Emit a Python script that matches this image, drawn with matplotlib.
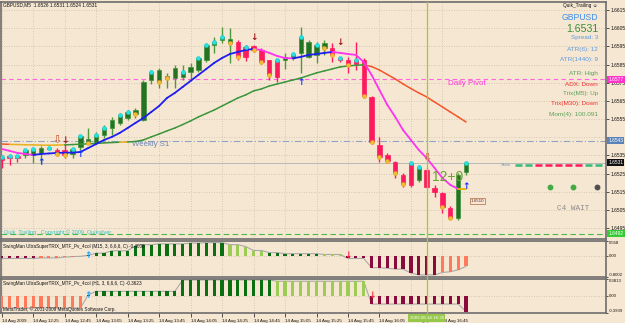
import matplotlib
matplotlib.use('Agg')
import matplotlib.pyplot as plt
import matplotlib.transforms as mtransforms
from matplotlib.collections import LineCollection
from matplotlib.lines import Line2D
import numpy as np

plt.rcParams['font.family'] = ['Liberation Sans', 'DejaVu Sans']

# ---------------- data ----------------
symbol_title = 'GBPUSD,M5  1.6526 1.6531 1.6524 1.6531'
opens = [1.65342,1.65347,1.65347,1.65353,1.65353,1.65364,1.65386,1.65380,1.65380,1.65358,
         1.65397,1.65419,1.65419,1.65463,1.65501,1.65529,1.65556,1.65578,1.65545,1.65765,
         1.65754,1.65776,1.65776,1.65782,1.65809,1.65820,1.65875,1.65958,1.65985,1.65969,
         1.65974,1.65947,1.65952,1.65930,1.65875,1.65875,1.65875,1.65886,1.65914,1.65892,
         1.65903,1.65941,1.65941,1.65886,1.65875,1.65875,1.65875,1.65672,1.65408,1.65353,
         1.65314,1.65243,1.65309,1.65215,1.65270,1.65171,1.65144,1.65061,1.65006,1.65260]
highs = [1.65353,1.65353,1.65353,1.65386,1.65391,1.65402,1.65397,1.65391,1.65419,1.65391,
         1.65463,1.65501,1.65479,1.65518,1.65562,1.65584,1.65600,1.65611,1.65765,1.65820,
         1.65831,1.65804,1.65848,1.65848,1.65859,1.65892,1.65963,1.66002,1.66057,1.66051,
         1.65985,1.65958,1.65958,1.65941,1.65875,1.65881,1.65914,1.65914,1.66057,1.65985,
         1.65974,1.65985,1.65969,1.65892,1.65892,1.65974,1.65886,1.65677,1.65452,1.65364,
         1.65320,1.65254,1.65314,1.65298,1.65281,1.65188,1.65149,1.65072,1.65254,1.65310]
lows = [1.65281,1.65298,1.65314,1.65336,1.65309,1.65309,1.65380,1.65347,1.65336,1.65336,
        1.65380,1.65413,1.65413,1.65446,1.65463,1.65518,1.65545,1.65556,1.65540,1.65743,
        1.65721,1.65721,1.65721,1.65765,1.65765,1.65809,1.65864,1.65914,1.65969,1.65859,
        1.65875,1.65870,1.65919,1.65853,1.65765,1.65754,1.65826,1.65875,1.65804,1.65886,
        1.65859,1.65903,1.65864,1.65864,1.65804,1.65820,1.65666,1.65413,1.65314,1.65309,
        1.65226,1.65177,1.65177,1.65204,1.65171,1.65122,1.65034,1.65000,1.64995,1.65240]
closes = [1.65325,1.65336,1.65336,1.65380,1.65386,1.65391,1.65391,1.65358,1.65353,1.65386,
          1.65457,1.65441,1.65463,1.65501,1.65545,1.65573,1.65589,1.65600,1.65754,1.65809,
          1.65820,1.65787,1.65831,1.65809,1.65837,1.65886,1.65958,1.65974,1.66002,1.65991,
          1.65892,1.65892,1.65930,1.65864,1.65793,1.65782,1.65892,1.65908,1.66002,1.65974,
          1.65958,1.65969,1.65903,1.65875,1.65848,1.65853,1.65677,1.65424,1.65342,1.65320,
          1.65254,1.65193,1.65188,1.65287,1.65177,1.65149,1.65066,1.65006,1.65243,1.65310]
fast_ma = [1.65386,1.65375,1.65364,1.65358,1.65353,1.65358,1.65361,1.65364,1.65365,1.65366,
           1.65369,1.65391,1.65413,1.65435,1.65452,1.65474,1.65501,1.65529,1.65556,1.65589,
           1.65622,1.65666,1.65694,1.65727,1.65760,1.65793,1.65826,1.65859,1.65886,1.65908,
           1.65919,1.65930,1.65936,1.65930,1.65914,1.65897,1.65886,1.65884,1.65892,1.65903,
           1.65908,1.65914,1.65919,1.65914,1.65908,1.65903,1.65864,1.65793,1.65710,1.65628,
           1.65562,1.65490,1.65435,1.65380,1.65336,1.65281,1.65226,1.65188,1.65166,1.65166]
slow_ma = [1.65413,1.65411,1.65410,1.65409,1.65408,1.65407,1.65406,1.65407,1.65408,1.65410,
           1.65412,1.65414,1.65416,1.65419,1.65421,1.65423,1.65424,1.65427,1.65435,1.65452,
           1.65468,1.65485,1.65501,1.65520,1.65540,1.65562,1.65581,1.65600,1.65622,1.65644,
           1.65666,1.65683,1.65705,1.65716,1.65732,1.65743,1.65754,1.65765,1.65776,1.65790,
           1.65804,1.65815,1.65826,1.65837,1.65842,1.65846,1.65848,1.65839,1.65820,1.65795,
           1.65771,1.65743,1.65718,1.65694,1.65672,1.65644,1.65617,1.65589,1.65562,1.65534]
cyan_dot_bars = [0,1,2,3,4,6,9,10,12,13,15,16,19,23,25,26,27,28,31,35,37,38,40,43,45,52,53,59]
yellow_dot_bars = [7,8,11,17,20,21,29,30,32,33,34,41,42,44,46,47,48,49,50,51,56,57]
up_arrow_bars = [5, 10, 38, 59]
up_arrow_prices = [1.65309, 1.65353, 1.65749, 1.65177]
down_arrow_bars = [8, 32, 43]
down_arrow_prices = [1.65430, 1.65996, 1.65969]
hollow_arrow_bars = [7, 54]
hollow_arrow_prices = [1.65435, 1.65336]

trix_m15 = [-0.10,-0.10,-0.10,-0.10,-0.10,-0.08,-0.08,-0.08,-0.05,-0.03,
            -0.02,0.02,0.10,0.10,0.19,0.19,0.19,0.38,0.42,0.42,
            0.45,0.45,0.45,0.45,0.48,0.48,0.50,0.50,0.50,0.42,
            0.42,0.35,0.20,0.20,0.12,0.12,0.08,0.08,0.08,0.08,
            0.08,0.05,0.05,0.05,-0.10,-0.10,-0.10,-0.45,-0.45,-0.47,
            -0.50,-0.50,-0.65,-0.72,-0.72,-0.72,-0.63,-0.60,-0.53,-0.40]
trix_m15_state = 'RRRRRrrrrr' 'rGGGGGGGGG' 'GGGGGGGGGg' 'ggggGGGGGG' 'GgggRRRRRR' 'RRRRRRrrrr'
trix_h1 = [-0.28,-0.28,-0.28,-0.28,-0.28,-0.28,-0.28,-0.28,-0.28,-0.28,
           -0.28,0.02,0.10,0.10,0.10,0.10,0.10,0.10,0.10,0.10,
           0.10,0.10,0.10,0.36,0.36,0.36,0.36,0.36,0.36,0.36,
           0.36,0.36,0.36,0.36,0.36,0.33,0.33,0.33,0.33,0.33,
           0.33,0.33,0.33,0.33,0.33,0.33,0.33,-0.19,-0.19,-0.19,
           -0.19,-0.19,-0.19,-0.19,-0.19,-0.19,-0.19,-0.19,-0.19,-0.36]
trix_h1_state = 'rrrrrrrrrr' 'rGGGGGGGGG' 'GGGGGGGGGG' 'GGGGGggggg' 'gggggggRRR' 'RRRRRRRRRR'
m15_range = (-0.8002, 0.5586)
h1_range = (-0.3939, 0.3813)
m15_title = 'SwingMan UltraSuperTRIX_MTF_Pv_4col (M15, 3, 6,6,6, C) -0.4008'
h1_title = 'SwingMan UltraSuperTRIX_MTF_Pv_4col (H1, 3, 6,6,6, C) -0.3623'
m15_tick_labels = ['0.558', '0.00', '-0.8002']
h1_tick_labels = ['0.3813', '0.00', '-0.3939']
trix_cross_up_bar = 11
m15_cross_down_bar = 44
h1_cross_down_bar = 47

price_ticks = [1.6615, 1.6605, 1.6595, 1.6585, 1.6575, 1.6565, 1.6555, 1.6545,
               1.6535, 1.6525, 1.6515, 1.6505, 1.6495]
price_tick_labels = ['1.6615', '1.6605', '1.6595', '1.6585', '1.6575', '1.6565', '1.6555', '',
                     '1.6535', '1.6525', '1.6515', '1.6505', '1.6495']
price_range = (1.648905, 1.66194)
time_tick_bars = [0, 4, 8, 12, 16, 20, 24, 28, 32, 36, 40, 44, 48, 52, 56]
time_tick_labels = ['14 Aug 2009', '14 Aug 12:25', '14 Aug 12:45', '14 Aug 13:05',
                    '14 Aug 13:25', '14 Aug 13:45', '14 Aug 14:05', '14 Aug 14:25',
                    '14 Aug 14:45', '14 Aug 15:05', '14 Aug 15:25', '14 Aug 15:45',
                    '14 Aug 16:05', '14 Aug 16:25', '14 Aug 16:45']
cursor_bar = 54
cursor_label = '2009.08.14 16:35'
daily_pivot = 1.6577
weekly_s1 = 1.6543
bid_price = 1.6531
low_level = 1.6492
stop_level = 1.6510
stats_level = 1.6530
stats_states = ['G', 'G', 'R', 'R', 'R', 'R', 'R', 'G', 'G', 'G']
info_symbol = 'GBPUSD'
info_price = '1.6531'
info_lines = ['Spread: 3', 'ATR(6): 12', 'ATR(1440): 9', 'ATR: High', 'ADX: Down',
              'Trix(M5): Up', 'Trix(M30): Down', 'Mom(4): 100.091']
info_states = ['B', 'B', 'B', 'G', 'R', 'G', 'R', 'G']
counter_text = '12+0'
wait_text = 'C4 WAIT'

# ---------------- styling / layout ----------------
W, H = 625, 323
BG = '#f6e7d2'
GRID = '#c9bdab'
SPINE = '#6c6c6c'
BULL_BODY = '#237323'
BULL_WICK = '#4f9a3a'
BEAR = '#ff1a5e'
TXT = '#111111'

fig = plt.figure(figsize=(W / 100, H / 100), dpi=100, facecolor=BG)


def box(top, bottom, left=1, right=606):
    return [left / W, 1 - bottom / H, (right - left) / W, (bottom - top) / H]


ax = fig.add_axes(box(2, 239))
ax1 = fig.add_axes(box(241, 277), sharex=ax)
ax2 = fig.add_axes(box(279, 313), sharex=ax)

x_lo = (1 - 1.7) / 7.87
x_hi = (606 - 1.7) / 7.87
n = len(opens)
idx = np.arange(n)

for a in (ax, ax1, ax2):
    a.set_facecolor(BG)
    for s in a.spines.values():
        s.set_color(SPINE)
        s.set_linewidth(1.2)
    a.set_xlim(x_lo, x_hi)
    a.set_xticks(time_tick_bars)
    a.grid(True, color=GRID, linestyle=(0, (1, 2)), linewidth=0.6)
    a.set_axisbelow(True)
    a.yaxis.tick_right()
    a.tick_params(axis='y', which='both', length=2, width=0.5, pad=1.0,
                  labelsize=3.5, colors=TXT)

for a in (ax1, ax2):
    a.tick_params(axis='y', length=1.5, pad=0.6, labelsize=3.1)

for a in (ax, ax1):
    a.tick_params(axis='x', length=0, labelbottom=False)

ax2.set_xticklabels(time_tick_labels)
ax2.tick_params(axis='x', length=3, width=0.5, pad=1.2, labelsize=3.15,
                colors=TXT, direction='out')
for lbl in ax2.get_xticklabels():
    lbl.set_horizontalalignment('left')

# ---- main price panel ----
ax.set_ylim(*price_range)
ax.set_yticks(price_ticks)
ax.set_yticklabels(price_tick_labels)

o = np.array(opens); c = np.array(closes); h = np.array(highs); l = np.array(lows)
bull = c >= o
wick_cols = np.where(bull, BULL_WICK, BEAR)
ax.vlines(idx, l, h, colors=wick_cols, linewidth=1.0, zorder=3)
body_bottom = np.minimum(o, c)
body_h = np.maximum(np.abs(c - o), 0.00002)
ax.bar(idx, body_h, bottom=body_bottom, width=0.56,
       color=np.where(bull, BULL_BODY, BEAR), edgecolor=np.where(bull, '#3f8f3f', BEAR),
       linewidth=0.5, zorder=4)


def slope_line(values, up, down, flat, tol, lw):
    v = np.array(values)
    pts = np.column_stack([idx, v])
    segs = np.stack([pts[:-1], pts[1:]], axis=1)
    d = np.diff(v)
    cols = [up if dd > tol else (down if dd < -tol else flat) for dd in d]
    ax.add_collection(LineCollection(segs, colors=cols, linewidths=lw, zorder=5,
                                     capstyle='round'))


slope_line(slow_ma, '#3a963a', '#f2552a', '#e8b020', 0.000019, 1.1)
slope_line(fast_ma, '#1e1ef0', '#ff33ee', '#f0b000', 0.000005, 1.3)

ax.plot(cyan_dot_bars, [max(o[i], c[i]) for i in cyan_dot_bars], 'o', ms=3.0,
        color='#22e2e2', mec='#22c8c8', mew=0.3, zorder=6)
ax.plot(yellow_dot_bars, [min(o[i], c[i]) for i in yellow_dot_bars], 'o', ms=3.0,
        color='#f2bb33', mec='#e0a020', mew=0.3, zorder=6)

for b, p in zip(up_arrow_bars, up_arrow_prices):
    ax.text(b, p, '\u2191', color='#1232ff', fontsize=6.5, fontweight='bold',
            ha='center', va='center', family='DejaVu Sans', zorder=7)
for b, p in zip(down_arrow_bars, down_arrow_prices):
    ax.text(b, p, '\u2193', color='#a01818', fontsize=6.5, fontweight='bold',
            ha='center', va='center', family='DejaVu Sans', zorder=7)
for b, p in zip(hollow_arrow_bars, hollow_arrow_prices):
    ax.text(b, p, '\u21e9', color='#c8502a', fontsize=8, ha='center', va='center',
            family='DejaVu Sans', zorder=7)

ax.axhline(daily_pivot, color='#ff66dd', lw=0.8, ls=(0, (4, 3)), zorder=2)
ax.axhline(weekly_s1, color='#8fa4c4', lw=0.8, ls=(0, (6, 2, 1, 2)), zorder=2)
ax.axhline(bid_price, color='#b8b8b8', lw=0.7, zorder=2)
ax.axhline(low_level, color='#44bb44', lw=0.8, ls=(0, (5, 3)), zorder=2)
ax.text(56.7, daily_pivot - 0.00025, 'Daily Pivot', color='#ff33dd', fontsize=5.8,
        va='center', ha='left')
ax.text(16.6, weekly_s1 - 0.00018, 'Weekly S1', color='#6f86b4', fontsize=5.6,
        va='center', ha='left')

for k, st in enumerate(stats_states):
    x0 = 65.2 + k * 1.28
    ax.hlines(stats_level, x0, x0 + 0.9, colors='#33bb77' if st == 'G' else '#ff1a5e',
              linewidth=1.8, zorder=5)
ax.text(63.4, stats_level, 'Stats', color='#7090c8', fontsize=3.2, va='center', ha='left')
for xb, colr in zip([69.7, 72.6, 75.6], ['#44aa44', '#44aa44', '#505050']):
    ax.plot(xb, 1.65177, 'o', ms=3.2, color=colr, zorder=6)

ax.text(54.7, 1.65232, counter_text, color='#6ea03a', fontsize=10, va='center',
        ha='left', zorder=8)
ax.text(59.6, stop_level, f'{stop_level:.4f}', color='#603020', fontsize=3.2, va='center',
        ha='left', bbox=dict(boxstyle='square,pad=0.25', fc='#f8e6d6', ec='#b06a40', lw=0.5))

trans = mtransforms.blended_transform_factory(ax.transAxes, ax.transData)
for val, fc, tc in [(daily_pivot, '#ff33cc', 'white'), (weekly_s1, '#5a84b8', 'white'),
                    (bid_price, '#101010', 'white'), (low_level, '#33cc33', 'white')]:
    ax.text(1.004, val, f'{val:.4f}', transform=trans, fontsize=3.5, color=tc,
            va='center', ha='left', clip_on=False,
            bbox=dict(boxstyle='square,pad=0.2', fc=fc, ec='none'))

state_cols = {'G': '#0b6e12', 'g': '#9ccc55', 'R': '#8a0a3c', 'r': '#ff7a5c'}


def trix_panel(a, vals, states, rng, labels, title, down_bar):
    a.set_ylim(*rng)
    a.set_yticks([rng[1], 0.0, rng[0]])
    a.set_yticklabels(labels)
    tl = a.get_yticklabels()
    tl[0].set_verticalalignment('top')
    tl[2].set_verticalalignment('bottom')
    a.bar(idx, vals, width=0.4, color=[state_cols[s] for s in states], zorder=3)
    a.plot(idx, vals, color='#a9a9a9', lw=0.8, zorder=2)
    a.text(trix_cross_up_bar, 0.0, '\u2191', color='#22aaff', fontsize=6.5,
           fontweight='bold', ha='center', va='center', family='DejaVu Sans', zorder=5)
    a.text(down_bar, 0.0, '\u2193', color='#ff2040', fontsize=6.5, fontweight='bold',
           ha='center', va='center', family='DejaVu Sans', zorder=5)
    a.text(0.004, 0.93, title, transform=a.transAxes, fontsize=3.3, color=TXT,
           va='top', ha='left')


trix_panel(ax1, trix_m15, trix_m15_state, m15_range, m15_tick_labels, m15_title,
           m15_cross_down_bar)
trix_panel(ax2, trix_h1, trix_h1_state, h1_range, h1_tick_labels, h1_title,
           h1_cross_down_bar)

xc = ax.transData.transform((cursor_bar, price_range[0]))[0]
xf = fig.transFigure.inverted().transform((xc, 0))[0]
fig.add_artist(Line2D([xf, xf], [0, 1 - 2 / H], transform=fig.transFigure,
                      color='#9ccc33', lw=0.9, zorder=10))
fig.text(xf, 1 - 318 / H, cursor_label, fontsize=3.15, color='white', ha='center',
         va='center', zorder=11,
         bbox=dict(boxstyle='square,pad=0.35', fc='#96c84a', ec='none'))

fig.text(3 / W, 1 - 5 / H, symbol_title, fontsize=3.4, color=TXT, va='center', ha='left')
fig.text(4 / W, 1 - 232 / H, 'Quik_Trailing   Copyright \u00a9 2009  Quiksilver',
         fontsize=4.0, color='#33c4c4', va='center', ha='left')
fig.text(3 / W, 1 - 309 / H, 'MetaTrader, \u00a9 2001-2009 MetaQuotes Software Corp.',
         fontsize=3.3, color=TXT, va='center', ha='left')
fig.text(598 / W, 1 - 5 / H, 'Quik_Trailing \u263a', fontsize=3.4, color=TXT,
         va='center', ha='right', family=['Liberation Sans', 'DejaVu Sans'])
fig.text(598 / W, 1 - 17 / H, info_symbol, fontsize=6.2, color='#3b8ff0', va='center',
         ha='right')
fig.text(598 / W, 1 - 29 / H, info_price, fontsize=7.6, color='#3a8e3a', va='center',
         ha='right')
info_cols = {'B': '#5d9be0', 'G': '#5aa05a', 'R': '#f03030'}
info_y = [38, 49, 60, 74, 84, 94, 104, 114]
for t, st, yy in zip(info_lines, info_states, info_y):
    fig.text(598 / W, 1 - yy / H, t, fontsize=4.6, color=info_cols[st], va='center',
             ha='right')
fig.text(557 / W, 1 - 208 / H, wait_text, fontsize=5.5, color='#8a8a8a', va='center',
         ha='left', family='Liberation Mono')

fig.savefig('out.png', dpi=100, facecolor=BG)
